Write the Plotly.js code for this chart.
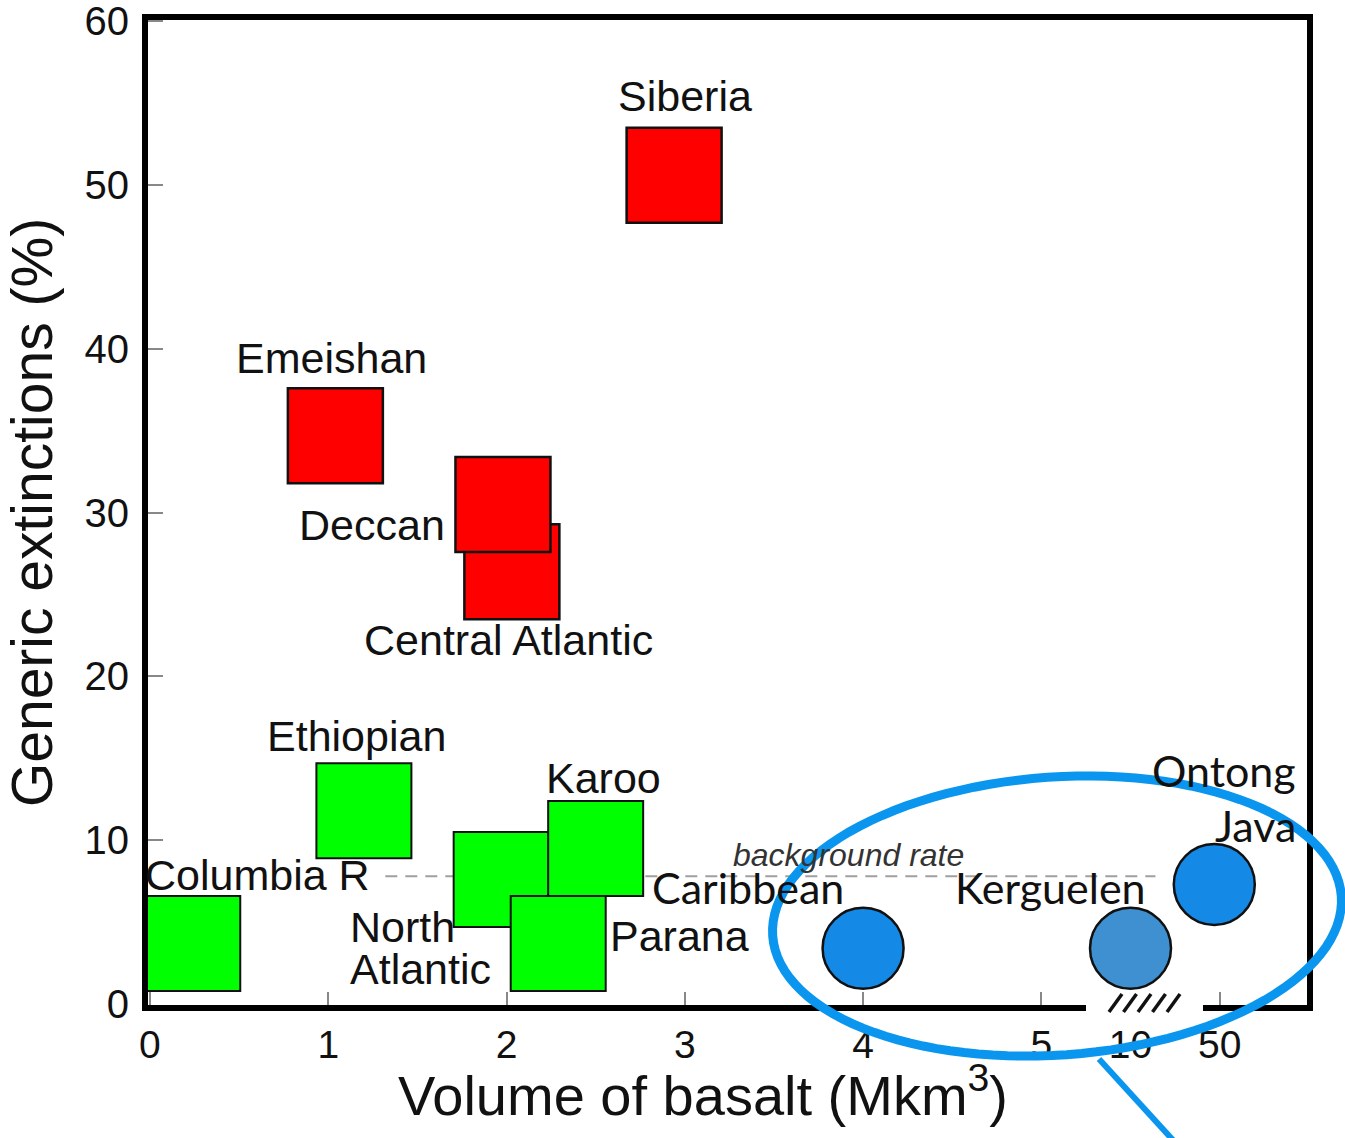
<!DOCTYPE html>
<html>
<head>
<meta charset="utf-8">
<script src="https://cdn.plot.ly/plotly-3.0.1.min.js"></script>
<style>html,body{margin:0;padding:0;background:#fff;}#chart{width:1345px;height:1138px;}</style>
</head>
<body>
<div id="chart"></div>
<script>
// ---------- DATA ----------
// x positions are on the displayed (broken) volume axis: 0..5 linear, then 10 and 50 Mkm3
const redNames   = ["Emeishan", "Central Atlantic", "Deccan", "Siberia"];
const redX       = [1.04, 2.03, 1.98, 2.94];
const redY       = [34.7, 26.4, 30.5, 50.6];

const greenNames = ["Columbia R", "Ethiopian", "North Atlantic", "Karoo", "Parana"];
const greenX     = [0.24, 1.20, 1.97, 2.50, 2.29];
const greenY     = [3.7, 11.8, 7.6, 9.5, 3.7];

const blueNames  = ["Caribbean", "Kerguelen", "Ontong Java"];
const blueX      = [4.0, 5.5, 5.97];
const blueY      = [3.4, 3.4, 7.3];

const backgroundRate = 7.8;
const bgLineX = [1.32, 5.64];

const xTickVals  = [0, 1, 2, 3, 4, 5, 5.5, 6];
const xTickText  = ["0", "1", "2", "3", "4", "5", "10", "50"];
const yTickVals  = [0, 10, 20, 30, 40, 50, 60];

const xTitle = 'Volume of basalt (Mkm<sup>3</sup>)';
const yTitle = 'Generic extinctions (%)';

// ---------- STYLE / LAYOUT ----------
const W = 1345, H = 1138;
const M = {l: 148, r: 38, t: 20, b: 133};
const PW = W - M.l - M.r, PH = H - M.t - M.b;
const px2x = p => (p - M.l) / PW;
const py2y = p => 1 - (p - M.t) / PH;

const FONT = "Liberation Sans, Arial, Helvetica, sans-serif";
const FONT2 = "Lato, Open Sans, sans-serif";

// label placement (pixels) relative to each point: [xshift, yshift of first line, anchor, line gap]
const redOff   = [[-4, 78, 'center', 0], [-3, -68, 'center', 0], [-131, -21, 'center', 0], [11, 79, 'center', 0]];
const greenOff = [[65, 68, 'center', 0], [-7, 75, 'center', 0], [-153, -47, 'left', 42], [8, 70, 'center', 0], [121, 7, 'center', 0]];
const blueOff  = [[-115, 61, 'center', 0], [-80, 61, 'center', 0], [84, 114, 'right', 55]];
// how each label breaks into lines
const lineBreaks = {"North Atlantic": ["North", "Atlantic"], "Ontong Java": ["Ontong", "Java"]};

const traces = [
  {x: bgLineX, y: [backgroundRate, backgroundRate], mode: 'lines', hoverinfo: 'skip',
   line: {color: '#a0a0a0', width: 2, dash: '12px,8px'}, showlegend: false},
  {x: redX, y: redY, text: redNames, mode: 'markers', name: 'major extinctions',
   marker: {symbol: 'square', size: 95, color: '#ff0000', line: {color: '#111', width: 2.5}}, showlegend: false},
  {x: greenX, y: greenY, text: greenNames, mode: 'markers', name: 'minor',
   marker: {symbol: 'square', size: 95, color: '#00ff00', line: {color: '#111', width: 2}}, showlegend: false},
  {x: blueX, y: blueY, text: blueNames, mode: 'markers', name: 'oceanic plateaus',
   marker: {symbol: 'circle', size: 81, color: ['#1589e6', '#3e90d0', '#1589e6'], line: {color: '#111', width: 2.5}}, showlegend: false}
];

const annotations = [];
function addLabels(names, xs, ys, offs, font) {
  names.forEach((n, i) => {
    const lines = lineBreaks[n] || [n];
    lines.forEach((ln, j) => {
      annotations.push({x: xs[i], y: ys[i], xref: 'x', yref: 'y', text: ln, showarrow: false,
        xshift: offs[i][0], yshift: offs[i][1] - j * offs[i][3], xanchor: offs[i][2], yanchor: 'middle',
        font: {family: font, size: 43, color: '#111'}});
    });
  });
}
addLabels(redNames, redX, redY, redOff, FONT);
addLabels(greenNames, greenX, greenY, greenOff, FONT);
addLabels(blueNames, blueX, blueY, blueOff, FONT2);
annotations.push({x: 3.92, y: backgroundRate, xref: 'x', yref: 'y', yshift: 21, text: '<i>background rate</i>',
  showarrow: false, font: {family: FONT, size: 32, color: '#333'}});
// x axis title (placed as annotation to match the reference's off-centre position)
annotations.push({x: px2x(703), y: py2y(1091), xref: 'paper', yref: 'paper', xanchor: 'center', yanchor: 'middle',
  text: xTitle, showarrow: false, font: {family: FONT, size: 56, color: '#111'}});

// decorations: axis break, ellipse, pointer line
const shapes = [];
shapes.push({type: 'rect', xref: 'paper', yref: 'paper', x0: px2x(1086), x1: px2x(1203), y0: py2y(1016), y1: py2y(990),
  fillcolor: '#ffffff', line: {width: 0}, layer: 'above'});
[1109, 1123.5, 1138, 1152.5, 1167].forEach(b => {
  shapes.push({type: 'line', xref: 'paper', yref: 'paper', x0: px2x(b), y0: py2y(1012), x1: px2x(b + 13), y1: py2y(994),
    line: {color: '#111', width: 3.5}, layer: 'above'});
});
(function () {
  const cx = 1057, cy = 916, rx = 285, ry = 139, rot = -4 * Math.PI / 180;
  let d = '';
  for (let k = 0; k <= 120; k++) {
    const t = 2 * Math.PI * k / 120;
    const ex = rx * Math.cos(t), ey = ry * Math.sin(t);
    const pxv = cx + ex * Math.cos(rot) - ey * Math.sin(rot);
    const pyv = cy + ex * Math.sin(rot) + ey * Math.cos(rot);
    d += (k === 0 ? 'M' : 'L') + px2x(pxv).toFixed(5) + ',' + py2y(pyv).toFixed(5);
  }
  d += 'Z';
  shapes.push({type: 'path', xref: 'paper', yref: 'paper', path: d, line: {color: '#0a96ef', width: 9}, layer: 'above'});
})();
shapes.push({type: 'line', xref: 'paper', yref: 'paper', x0: px2x(1099), y0: py2y(1059), x1: px2x(1182), y1: py2y(1150),
  line: {color: '#0a96ef', width: 6}, layer: 'above'});

const layout = {
  width: W, height: H,
  margin: M,
  paper_bgcolor: '#ffffff', plot_bgcolor: '#ffffff',
  showlegend: false,
  xaxis: {
    range: [-0.011, 6.49], tickvals: xTickVals, ticktext: xTickText,
    showgrid: false, zeroline: false, showline: true, mirror: true, linecolor: '#000', linewidth: 6,
    ticks: 'inside', ticklen: 13, tickwidth: 2, tickcolor: '#888', ticklabeloverflow: 'allow',
    tickfont: {family: FONT, size: 39, color: '#111'},
    automargin: false, fixedrange: true
  },
  yaxis: {
    range: [-0.06, 60.08], tickvals: yTickVals,
    showgrid: false, zeroline: false, showline: true, mirror: true, linecolor: '#000', linewidth: 6,
    ticks: 'inside', ticklen: 15, tickwidth: 2, tickcolor: '#888', ticklabelstandoff: 5, ticklabeloverflow: 'allow',
    tickfont: {family: FONT, size: 40, color: '#111'},
    title: {text: yTitle, standoff: 18, font: {family: FONT, size: 57, color: '#111'}},
    automargin: false, fixedrange: true
  },
  annotations: annotations,
  shapes: shapes
};

Plotly.newPlot('chart', traces, layout, {displayModeBar: false, staticPlot: true});
</script>
</body>
</html>
